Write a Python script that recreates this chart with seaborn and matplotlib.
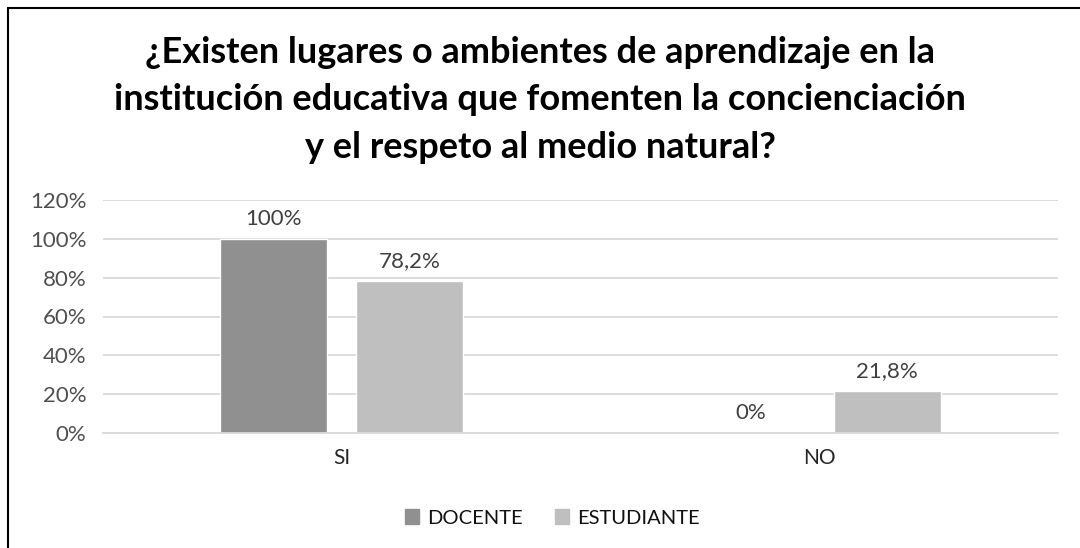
import matplotlib
matplotlib.use("Agg")
import matplotlib.pyplot as plt
import seaborn as sns
import pandas as pd
from matplotlib.patches import Rectangle

# data
categories = ["SI", "NO"]
groups = ["DOCENTE", "ESTUDIANTE"]
docente = [100, 0]
estudiante = [78.2, 21.8]
docente_labels = ["100%", "0%"]
estudiante_labels = ["78,2%", "21,8%"]
y_ticks = [0, 20, 40, 60, 80, 100, 120]

df = pd.DataFrame({
    "cat": categories * 2,
    "grupo": [groups[0]] * 2 + [groups[1]] * 2,
    "valor": docente + estudiante,
})

sns.set_theme(style="white")
plt.rcParams["font.family"] = ["Lato", "DejaVu Sans"]

fig = plt.figure(figsize=(10.8, 5.48), dpi=100)
ax = fig.add_axes([103 / 1080, 1 - 433 / 548, 955 / 1080, 233 / 548])

sns.barplot(data=df, x="cat", y="valor", hue="grupo", order=categories,
            hue_order=groups, palette=["#909090", "#bfbfbf"],
            width=0.57, gap=0.214, saturation=1, ax=ax, legend=False)

# value labels
for bars, labels in zip(ax.containers, [docente_labels, estudiante_labels]):
    ax.bar_label(bars, labels=labels, padding=7, fontsize=16, color="#404040")

ax.set_ylim(0, 120)
ax.set_yticks(y_ticks)
ax.set_yticklabels([f"{t}%" for t in y_ticks])
ax.yaxis.grid(True, color="#d9d9d9", linewidth=1.3)
ax.set_axisbelow(True)
for s in ["top", "right", "left"]:
    ax.spines[s].set_visible(False)
ax.spines["bottom"].set_color("#d9d9d9")
ax.spines["bottom"].set_linewidth(1.3)
ax.tick_params(axis="both", length=0, labelsize=16, labelcolor="#505050")
ax.tick_params(axis="x", pad=11, labelcolor="#262626", labelsize=15)
ax.tick_params(axis="y", pad=12)
ax.set_xlabel("")
ax.set_ylabel("")

fig.text(0.5, 1 - 100 / 548,
         "¿Existen lugares o ambientes de aprendizaje en la\n"
         "institución educativa que fomenten la concienciación\n"
         "y el respeto al medio natural?",
         ha="center", va="center", fontsize=26, fontweight="bold",
         linespacing=1.55, color="black")

# legend
handles = [Rectangle((0, 0), 1, 1, color=c) for c in ["#909090", "#bfbfbf"]]
fig.legend(handles, groups, loc="center", bbox_to_anchor=(552 / 1080, 1 - 518 / 548),
           ncol=2, frameon=False, fontsize=14.5, handlelength=0.7, handleheight=0.7,
           columnspacing=1.6, handletextpad=0.4, labelcolor="#111111")

# outer frame
fig.patches.append(Rectangle((8 / 1080, -0.01), 1.05, 1 - 8 / 548 + 0.01,
                             transform=fig.transFigure, fill=False,
                             edgecolor="black", linewidth=1.5))

fig.savefig("out.png", dpi=100)
